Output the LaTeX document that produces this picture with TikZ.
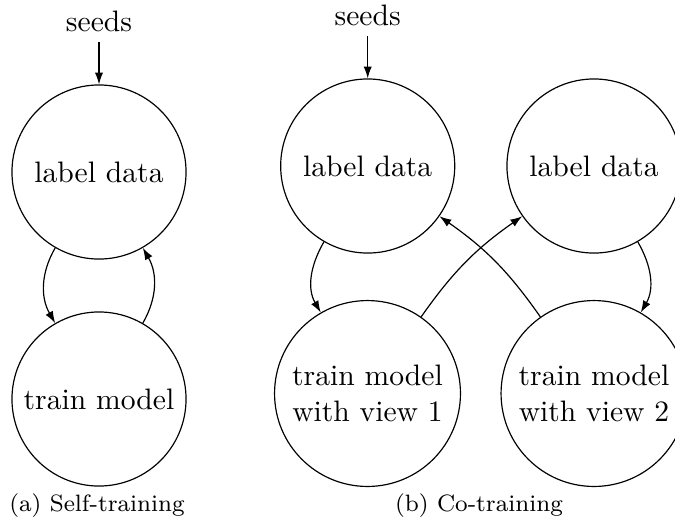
\documentclass[tikz,border=0pt]{standalone}
\usetikzlibrary{arrows.meta}
\tikzset{
  circnode/.style={circle, draw, line width=0.4pt, inner sep=0pt, align=center},
  smallcirc/.style={circnode, minimum size=58.8pt},
  bigcirc/.style={circnode, minimum size=62.8pt},
  arr/.style={-{Latex[length=4pt,width=2.8pt]}, line width=0.4pt},
  capnode/.style={font=\footnotesize, anchor=base, inner sep=0pt},
  seednode/.style={anchor=south}
}
\begin{document}
\begin{tikzpicture}[x=0.3378pt, y=-0.3378pt]
\useasboundingbox (0,0) rectangle (675,523);
% (a) Self-training
\node[seednode] (sA) at (99,42) {seeds};
\node[smallcirc] (lA) at (99,172) {label data};
\node[smallcirc] (tA) at (99,399) {train model};
\draw[arr] (sA.south) -- (lA.north);
\draw[arr] (lA.-120) to[out=-120,in=120] (tA.120);
\draw[arr] (tA.60) to[out=60,in=-60] (lA.-60);
\node[capnode] (capA) at (97,511) {(a) Self-training};
% (b) Co-training
\node[seednode] (sB) at (367.7,36) {seeds};
\node[smallcirc] (lB1) at (367.7,166) {label data};
\node[smallcirc] (lB2) at (594,166) {label data};
\node[bigcirc] (tB1) at (367.5,393.5) {train model\\with view 1};
\node[bigcirc] (tB2) at (594,393.5) {train model\\with view 2};
\draw[arr] (sB.south) -- (lB1.north);
\draw[arr] (lB1.-120) to[out=-120,in=120] (tB1.120);
\draw[arr] (lB2.-60) to[out=-60,in=60] (tB2.60);
\draw[arr] (tB1.55) to[out=55,in=215] (lB2.215);
\draw[arr] (tB2.125) to[out=125,in=-35] (lB1.-35);
\node[capnode] (capB) at (479,511) {(b) Co-training};
\end{tikzpicture}
\end{document}
